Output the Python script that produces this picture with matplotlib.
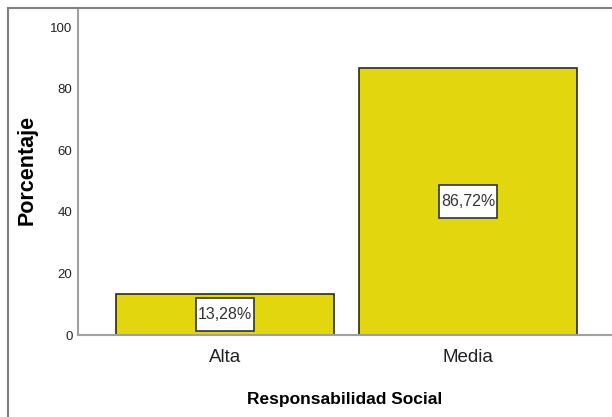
import matplotlib.pyplot as plt
from matplotlib.patches import Rectangle

categorias = ['Alta', 'Media']
porcentajes = [13.28, 86.72]
etiquetas = ['13,28%', '86,72%']
yticks = [0, 20, 40, 60, 80, 100]

plt.rcParams['font.family'] = ['Liberation Sans', 'DejaVu Sans']

fig = plt.figure(figsize=(6.12, 4.17), dpi=100)
W, H = 612, 417

# outer chart frame (cut off at right and bottom like the reference)
fig.patches.append(Rectangle((8 / W, -0.1), 1.2, 1 - 8 / H + 0.1, transform=fig.transFigure,
                             fill=False, edgecolor='#808080', lw=1.5))

ax = fig.add_axes([78 / W, 1 - 335 / H, 1 - 78 / W, (335 - 8) / H])
x = range(len(categorias))
bars = ax.bar(x, porcentajes, width=0.9, color='#e2d60f', edgecolor='#2b2b1b', lw=1.2, zorder=2)

# value labels in white boxes, centred in each bar
bw, bh = 0.24, 10.8
for i, b in enumerate(bars):
    cx = b.get_x() + b.get_width() / 2
    cy = porcentajes[i] / 2
    ax.add_patch(Rectangle((cx - bw / 2, cy - bh / 2), bw, bh, fc='white', ec='#333333',
                           lw=1.2, zorder=3))
    ax.text(cx, cy, etiquetas[i], ha='center', va='center', fontsize=11.5,
            color='#333333', zorder=4)

ax.set_xlim(-0.605, 1.593)
ax.set_ylim(0, 106.2)
ax.set_xticks(list(x))
ax.set_xticklabels(categorias, fontsize=13.5, color='#222222')
ax.set_yticks(yticks)
ax.set_yticklabels([str(v) for v in yticks], fontsize=9.5, color='#222222')
ax.tick_params(length=0)
ax.tick_params(axis='y', pad=4)
ax.tick_params(axis='x', pad=10)

for s in ['top', 'right']:
    ax.spines[s].set_visible(False)
for s in ['left', 'bottom']:
    ax.spines[s].set_color('#a0a0a0')
    ax.spines[s].set_linewidth(1.5)

ax.set_ylabel('Porcentaje', fontsize=15.5, fontweight='bold')
ax.yaxis.label.set_va('center')
ax.yaxis.set_label_coords(-0.0955, 0.505)
ax.set_xlabel('Responsabilidad Social', fontsize=12.5, fontweight='bold')
ax.xaxis.label.set_va('center')
ax.xaxis.set_label_coords(0.5, -0.196)

fig.savefig('out.png', dpi=100)
